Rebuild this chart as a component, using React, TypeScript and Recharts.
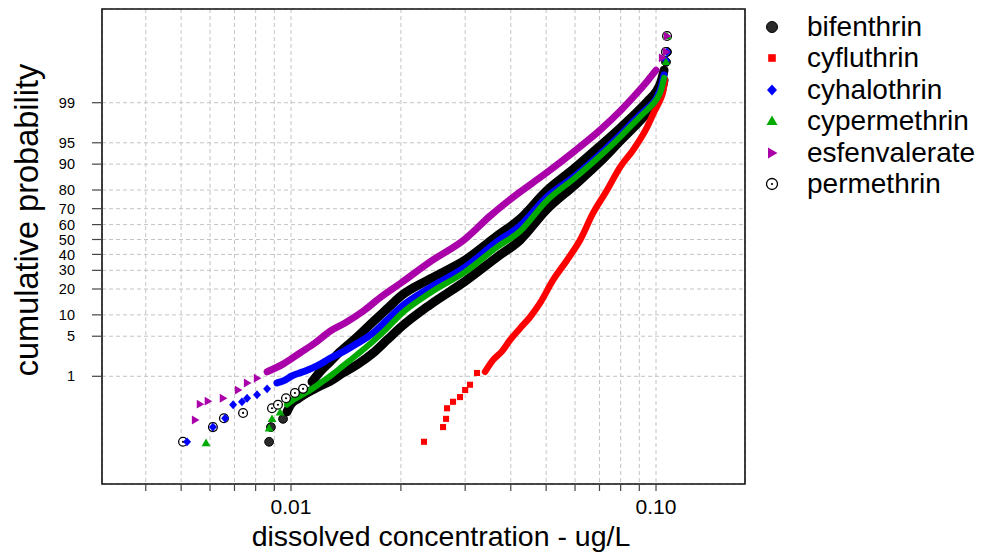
import React from 'react';
import { ScatterChart, Scatter, XAxis, YAxis, CartesianGrid, ReferenceArea } from 'recharts';

// ---- data (concentration in ug/L, normal score of cumulative probability) ----
const probabilityTicks = [1, 5, 10, 20, 30, 40, 50, 60, 70, 80, 90, 95, 99];
const concentrationTicks = [0.004, 0.005, 0.006, 0.007, 0.008, 0.009, 0.01, 0.02, 0.03, 0.04, 0.05, 0.06, 0.07, 0.08, 0.09, 0.1];
const concentrationLabels: Record<string, string> = { '0.01': '0.01', '0.1': '0.10' };
const seriesNames = ['bifenthrin', 'cyfluthrin', 'cyhalothrin', 'cypermethrin', 'esfenvalerate', 'permethrin'];

const bifenthrinConc = [0.00871, 0.00881, 0.00951, 0.00975, 0.0100, 0.01045, 0.01106, 0.01186, 0.01279, 0.01388, 0.01516, 0.01678, 0.01832, 0.0200, 0.02403, 0.0300, 0.03668, 0.04241, 0.0500, 0.0600, 0.07024, 0.0802, 0.0898, 0.0951, 0.1000, 0.1032, 0.1052, 0.1065, 0.1072];
const bifenthrinScore = [-3.44, -3.19, -3.05, -2.93, -2.80, -2.71, -2.61, -2.51, -2.41, -2.27, -2.13, -1.93, -1.71, -1.49, -1.11, -0.71, -0.30, -0.01, 0.50, 0.93, 1.32, 1.69, 2.00, 2.17, 2.32, 2.49, 2.71, 3.02, 3.19];

const cyfluthrinConc = [0.02314, 0.02609, 0.02659, 0.02676, 0.02779, 0.02904, 0.0300, 0.03093, 0.03233, 0.03401, 0.03577, 0.03786, 0.03981, 0.04241, 0.04517, 0.04811, 0.05223, 0.05705, 0.06192, 0.06723, 0.07341, 0.07969, 0.0865, 0.0945, 0.0994, 0.1026, 0.1045, 0.1058];
const cyfluthrinScore = [-3.44, -3.19, -3.05, -2.87, -2.76, -2.68, -2.56, -2.47, -2.27, -2.25, -2.05, -1.90, -1.71, -1.51, -1.32, -1.08, -0.69, -0.35, -0.01, 0.45, 0.84, 1.23, 1.52, 1.91, 2.20, 2.37, 2.51, 2.71];

const cyhalothrinConc = [0.00519, 0.00611, 0.00660, 0.00694, 0.00734, 0.00758, 0.00807, 0.00860, 0.00915, 0.00963, 0.01006, 0.01079, 0.01178, 0.01279, 0.01406, 0.01516, 0.01678, 0.01832, 0.0200, 0.02403, 0.0300, 0.03668, 0.04241, 0.0500, 0.0600, 0.07024, 0.0802, 0.0898, 0.0951, 0.1000, 0.1032, 0.1052, 0.1065, 0.1072];
const cyhalothrinScore = [-3.44, -3.19, -3.04, -2.81, -2.76, -2.70, -2.64, -2.54, -2.44, -2.39, -2.32, -2.25, -2.15, -2.02, -1.89, -1.77, -1.59, -1.37, -1.15, -0.82, -0.47, -0.04, 0.23, 0.71, 1.08, 1.45, 1.79, 2.10, 2.24, 2.39, 2.58, 2.80, 3.05, 3.19];

const cypermethrinConc = [0.00585, 0.00871, 0.00887, 0.00933, 0.00975, 0.01025, 0.01079, 0.01142, 0.01216, 0.01295, 0.01388, 0.01516, 0.01678, 0.01832, 0.0200, 0.02403, 0.0300, 0.03668, 0.04241, 0.0500, 0.0600, 0.07024, 0.0802, 0.0898, 0.0951, 0.1000, 0.1032, 0.1052, 0.1065, 0.1072];
const cypermethrinScore = [-3.46, -3.21, -3.05, -2.94, -2.81, -2.71, -2.63, -2.54, -2.42, -2.30, -2.15, -1.96, -1.73, -1.51, -1.27, -0.91, -0.55, -0.13, 0.14, 0.65, 1.05, 1.42, 1.76, 2.07, 2.22, 2.37, 2.54, 2.75, 3.02, 3.46];

const esfenvalerateConc = [0.00546, 0.00563, 0.00592, 0.00651, 0.00716, 0.00758, 0.00807, 0.00860, 0.00951, 0.01058, 0.01163, 0.01279, 0.01406, 0.01575, 0.01753, 0.0200, 0.02403, 0.0300, 0.03510, 0.0400, 0.0500, 0.0600, 0.07024, 0.0802, 0.0898, 0.0951, 0.1000, 0.1039, 0.1065, 0.1072];
const esfenvalerateScore = [-3.07, -2.80, -2.75, -2.70, -2.56, -2.44, -2.36, -2.25, -2.12, -1.93, -1.76, -1.56, -1.42, -1.22, -0.99, -0.74, -0.38, 0.01, 0.40, 0.69, 1.13, 1.51, 1.86, 2.20, 2.53, 2.71, 2.88, 3.09, 3.19, 3.46];

const permethrinConc = [0.00506, 0.00611, 0.00655, 0.00739, 0.00887, 0.00921, 0.00969, 0.01025, 0.01079, 0.01142, 0.01201, 0.01279, 0.01362, 0.01516, 0.01678, 0.01832, 0.0200, 0.02403, 0.0300, 0.03668, 0.04241, 0.0500, 0.0600, 0.07024, 0.0802, 0.0898, 0.0951, 0.1000, 0.1032, 0.1052, 0.1065, 0.1072];
const permethrinScore = [-3.44, -3.19, -3.04, -2.95, -2.87, -2.81, -2.70, -2.61, -2.54, -2.42, -2.25, -2.08, -1.91, -1.66, -1.40, -1.18, -0.96, -0.67, -0.35, 0.06, 0.35, 0.82, 1.22, 1.59, 1.91, 2.20, 2.36, 2.51, 2.68, 2.88, 3.19, 3.46];

// ---- helpers ----
function probit(p: number): number {
  const a = [-3.969683028665376e1, 2.209460984245205e2, -2.759285104469687e2, 1.38357751867269e2, -3.066479806614716e1, 2.506628277459239];
  const b = [-5.447609879822406e1, 1.615858368580409e2, -1.556989798598866e2, 6.680131188771972e1, -1.328068155288572e1];
  const c = [-7.784894002430293e-3, -3.223964580411365e-1, -2.400758277161838, -2.549732539343734, 4.374664141464968, 2.938163982698783];
  const d = [7.784695709041462e-3, 3.224671290700398e-1, 2.445134137142996, 3.754408661907416];
  const pl = 0.02425;
  if (p < pl) {
    const q = Math.sqrt(-2 * Math.log(p));
    return (((((c[0] * q + c[1]) * q + c[2]) * q + c[3]) * q + c[4]) * q + c[5]) / ((((d[0] * q + d[1]) * q + d[2]) * q + d[3]) * q + 1);
  }
  if (p <= 1 - pl) {
    const q = p - 0.5;
    const r = q * q;
    return ((((((a[0] * r + a[1]) * r + a[2]) * r + a[3]) * r + a[4]) * r + a[5]) * q) / (((((b[0] * r + b[1]) * r + b[2]) * r + b[3]) * r + b[4]) * r + 1);
  }
  const q = Math.sqrt(-2 * Math.log(1 - p));
  return -(((((c[0] * q + c[1]) * q + c[2]) * q + c[3]) * q + c[4]) * q + c[5]) / ((((d[0] * q + d[1]) * q + d[2]) * q + d[3]) * q + 1);
}

const yTickPositions = probabilityTicks.map((p) => probit(p / 100));
const X_MIN = 0.003035;
const X_MAX = 0.1753;
const Y_MIN = -4.158;
const Y_MAX = 3.92;
const FONT = "'Liberation Sans', Arial, Helvetica, sans-serif";

type Kind = 'disc' | 'square' | 'diamond' | 'triangle' | 'right' | 'ring';

function drawMarker(kind: Kind, cx: number, cy: number, color: string, s: number) {
  switch (kind) {
    case 'disc':
      return <circle cx={cx} cy={cy} r={s * 0.55} fill="#2a2a2a" stroke="#000" strokeWidth={1} />;
    case 'square':
      return <rect x={cx - s * 0.38} y={cy - s * 0.38} width={s * 0.76} height={s * 0.76} fill={color} />;
    case 'diamond':
      return <polygon points={`${cx},${cy - s * 0.55} ${cx + s * 0.5},${cy} ${cx},${cy + s * 0.55} ${cx - s * 0.5},${cy}`} fill={color} />;
    case 'triangle':
      return <polygon points={`${cx},${cy - s * 0.55} ${cx + s * 0.55},${cy + s * 0.4} ${cx - s * 0.55},${cy + s * 0.4}`} fill={color} />;
    case 'right':
      return <polygon points={`${cx + s * 0.55},${cy} ${cx - s * 0.4},${cy - s * 0.55} ${cx - s * 0.4},${cy + s * 0.55}`} fill={color} />;
    case 'ring':
    default:
      return (
        <g>
          <circle cx={cx} cy={cy} r={s * 0.55} fill="#fff" stroke="#000" strokeWidth={1.3} />
          <circle cx={cx} cy={cy} r={1.1} fill="#000" />
        </g>
      );
  }
}

interface SeriesDef {
  name: string;
  conc: number[];
  score: number[];
  color: string;
  kind: Kind;
  width: number;
  bodyFrom: number;
  bodyTo: number;
}

const seriesDefs: SeriesDef[] = [
  { name: seriesNames[0], conc: bifenthrinConc, score: bifenthrinScore, color: '#000000', kind: 'disc', width: 9, bodyFrom: -2.95, bodyTo: 2.75 },
  { name: seriesNames[5], conc: permethrinConc, score: permethrinScore, color: '#000000', kind: 'ring', width: 9, bodyFrom: -2.45, bodyTo: 2.9 },
  { name: seriesNames[1], conc: cyfluthrinConc, score: cyfluthrinScore, color: '#ff0000', kind: 'square', width: 6.5, bodyFrom: -2.26, bodyTo: 2.75 },
  { name: seriesNames[2], conc: cyhalothrinConc, score: cyhalothrinScore, color: '#0000ff', kind: 'diamond', width: 7, bodyFrom: -2.45, bodyTo: 2.85 },
  { name: seriesNames[3], conc: cypermethrinConc, score: cypermethrinScore, color: '#00aa00', kind: 'triangle', width: 6, bodyFrom: -2.82, bodyTo: 2.8 },
  { name: seriesNames[4], conc: esfenvalerateConc, score: esfenvalerateScore, color: '#aa00aa', kind: 'right', width: 7, bodyFrom: -2.26, bodyTo: 2.95 },
];

const legendKinds: Record<string, { kind: Kind; color: string }> = {
  bifenthrin: { kind: 'disc', color: '#000' },
  cyfluthrin: { kind: 'square', color: '#ff0000' },
  cyhalothrin: { kind: 'diamond', color: '#0000ff' },
  cypermethrin: { kind: 'triangle', color: '#00aa00' },
  esfenvalerate: { kind: 'right', color: '#aa00aa' },
  permethrin: { kind: 'ring', color: '#000' },
};

const renderXTitle = () => (
  <text x={441} y={546} textAnchor="middle" fontSize={28.5} fontFamily={FONT} fill="#000">
    dissolved concentration - ug/L
  </text>
);

const renderYTitle = () => (
  <text x={38} y={220} transform="rotate(-90, 38, 220)" textAnchor="middle" fontSize={32.5} fontFamily={FONT} fill="#000">
    cumulative probability
  </text>
);

const yTickLabel = (v: number) => {
  let best = 0;
  yTickPositions.forEach((t, i) => {
    if (Math.abs(t - v) < Math.abs(yTickPositions[best] - v)) best = i;
  });
  return String(probabilityTicks[best]);
};

const xTickLabel = (v: number) => {
  const key = String(Math.round(v * 1000) / 1000);
  return concentrationLabels[key] ?? '';
};

export default function App() {
  const layers = seriesDefs.map((s) => {
    const pts = s.conc.map((x, i) => ({ x, y: s.score[i] }));
    const body = pts.filter((p) => p.y >= s.bodyFrom && p.y <= s.bodyTo);
    const tail = pts.filter((p) => p.y < s.bodyFrom || p.y > s.bodyTo);
    return { s, body, tail };
  });

  return (
    <div style={{ position: 'relative', width: 984, height: 558, background: '#fff' }}>
      <style>{'html,body{margin:0;padding:0;overflow:hidden;background:#fff}'}</style>
      <ScatterChart width={984} height={558} margin={{ top: 9, right: 239, bottom: 0, left: 0 }}>
        <CartesianGrid stroke="#c4c4c4" strokeDasharray="4 3" strokeWidth={1} />
        <XAxis
          type="number"
          dataKey="x"
          scale="log"
          domain={[X_MIN, X_MAX]}
          allowDataOverflow
          ticks={concentrationTicks}
          interval={0}
          tickFormatter={xTickLabel}
          tickSize={7}
          tickMargin={8}
          axisLine={false}
          tickLine={{ stroke: '#444', strokeWidth: 1.2 }}
          tick={{ fill: '#000', fontSize: 21, fontFamily: FONT }}
          height={74}
          label={renderXTitle}
        />
        <YAxis
          type="number"
          dataKey="y"
          domain={[Y_MIN, Y_MAX]}
          allowDataOverflow
          ticks={yTickPositions}
          interval={0}
          tickFormatter={yTickLabel}
          tickSize={10}
          tickMargin={17}
          axisLine={false}
          tickLine={{ stroke: '#444', strokeWidth: 1.2 }}
          tick={{ fill: '#000', fontSize: 14.5, fontFamily: FONT }}
          width={102}
          label={renderYTitle}
        />
        {layers.map(({ s, body }) => (
          <Scatter
            key={s.name + '-body'}
            name={s.name}
            data={body}
            fill={s.color}
            isAnimationActive={false}
            line={{ stroke: s.color, strokeWidth: s.width, strokeLinejoin: 'round', strokeLinecap: 'round' }}
            lineType="joint"
            lineJointType="monotoneX"
            shape={() => <g />}
          />
        ))}
        {layers.map(({ s, tail }) => (
          <Scatter
            key={s.name + '-tail'}
            name={s.name + ' tail'}
            data={tail}
            fill={s.color}
            isAnimationActive={false}
            shape={(p: any) => drawMarker(s.kind, p.cx, p.cy, s.color, 8)}
          />
        ))}
        <ReferenceArea x1={X_MIN} x2={X_MAX} y1={Y_MIN} y2={Y_MAX} fill="none" fillOpacity={0} stroke="#111" strokeWidth={1.6} ifOverflow="visible" />
      </ScatterChart>
      <div style={{ position: 'absolute', left: 758, top: 10.5, fontFamily: FONT, fontSize: 28, color: '#000' }}>
        {seriesNames.map((n) => (
          <div key={n} style={{ height: 31.6, lineHeight: '31.6px', display: 'flex', alignItems: 'center', whiteSpace: 'nowrap' }}>
            <svg width={28} height={31.6} style={{ display: 'block' }}>
              {drawMarker(legendKinds[n].kind, 14, 16, legendKinds[n].color, 10)}
            </svg>
            <span style={{ marginLeft: 21 }}>{n}</span>
          </div>
        ))}
      </div>
    </div>
  );
}
